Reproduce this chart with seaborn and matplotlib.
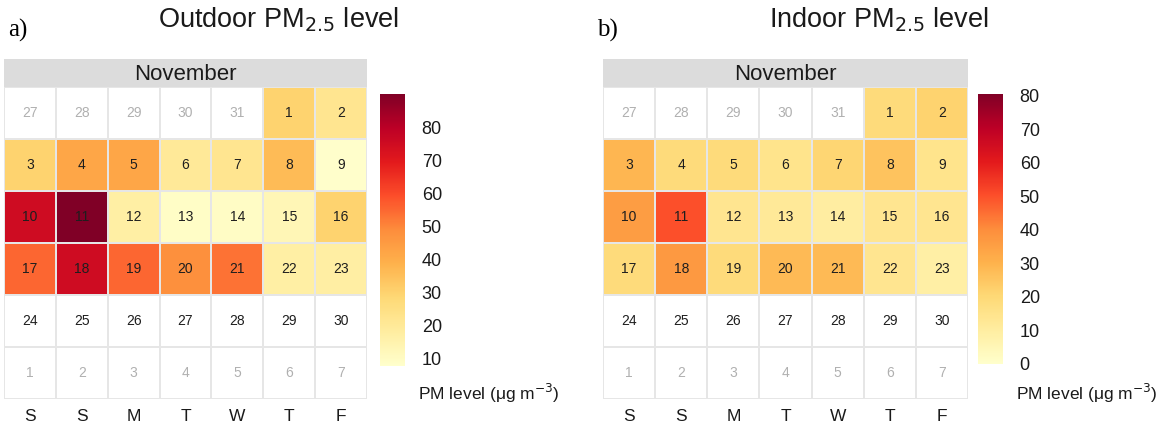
import numpy as np
import pandas as pd
import matplotlib
matplotlib.use("Agg")
import matplotlib.pyplot as plt
from matplotlib.colors import ListedColormap
import seaborn as sns

# ---- data -------------------------------------------------------------
weekdays = ["S", "S", "M", "T", "W", "T", "F"]
month_name = "November"
n_days = 30
first_col = 5          # column of the 1st of the month (Thursday)
prev_month_last = 31   # last day of the previous month

# daily mean PM2.5 (µg m^-3), 1st to 23rd November
outdoor = [30, 22, 30, 42, 42, 20, 22, 36, 8, 75, 90, 17, 9, 9.5, 13,
           30, 55, 75, 55, 48, 53, 17, 17.5]
indoor = [19, 22, 29, 19, 19, 15, 21, 26, 15, 36, 50, 14, 12, 10, 14,
          14, 19, 37, 19, 28, 28, 14, 9]

panel_titles = ["Outdoor PM$_{2.5}$ level", "Indoor PM$_{2.5}$ level"]
panel_tags = ["a)", "b)"]
scale_limits = [(7.6, 90), (0, 80.5)]
scale_ticks = [list(range(10, 90, 10)), list(range(0, 90, 10))]
legend_title = "PM level (\u03bcg m$^{-3}$)"

# ---- calendar layout ----------------------------------------------------
n_rows, n_cols = 6, 7
day_num = np.zeros((n_rows, n_cols), dtype=int)
in_month = np.zeros((n_rows, n_cols), dtype=bool)
for k in range(n_rows * n_cols):
    d = k - first_col + 1
    r, c = divmod(k, n_cols)
    if d < 1:
        day_num[r, c] = prev_month_last + d
    elif d > n_days:
        day_num[r, c] = d - n_days
    else:
        day_num[r, c] = d
        in_month[r, c] = True


def to_grid(values):
    grid = np.full((n_rows, n_cols), np.nan)
    for i, v in enumerate(values):
        r, c = divmod(i + first_col, n_cols)
        grid[r, c] = v
    return pd.DataFrame(grid)


sns.set_theme(style="white")
plt.rcParams["font.family"] = ["Liberation Sans", "DejaVu Sans"]

W, H = 1168, 426
fig = plt.figure(figsize=(W / 100, H / 100), dpi=100)


def fx(px):
    return px / W


def fy(px):
    return 1 - px / H


panels = [
    dict(x0=4, x1=367, cb=(380, 405, 94, 366), tag_x=8, title_x=278),
    dict(x0=603, x1=968, cb=(978, 1003, 94, 364), tag_x=597, title_x=879),
]
grid_top, grid_bot, hdr_top = 87, 399, 59
cmap = "YlOrRd"

for p, values, title, tag, (vmin, vmax), ticks in zip(
        panels, [outdoor, indoor], panel_titles, panel_tags,
        scale_limits, scale_ticks):
    ax = fig.add_axes([fx(p["x0"]), fy(grid_bot), fx(p["x1"] - p["x0"]),
                       (grid_bot - grid_top) / H])
    cx0, cx1, cy0, cy1 = p["cb"]
    cax = fig.add_axes([fx(cx0), fy(cy1), fx(cx1 - cx0), (cy1 - cy0) / H])

    # white base grid so every day cell gets its border
    sns.heatmap(pd.DataFrame(np.zeros((n_rows, n_cols))), ax=ax,
                cmap=ListedColormap(["white"]), cbar=False,
                linewidths=1.3, linecolor="#e6e6e6")
    data = to_grid(values)
    sns.heatmap(data, ax=ax, cmap=cmap, vmin=vmin, vmax=vmax,
                linewidths=1.3, linecolor="#e6e6e6",
                cbar_ax=cax, cbar_kws=dict(ticks=ticks))
    cbar = ax.collections[-1].colorbar

    for r in range(n_rows):
        for c in range(n_cols):
            ax.text(c + 0.5, r + 0.5, str(day_num[r, c]),
                    ha="center", va="center", fontsize=10,
                    color="#1e1e1e" if in_month[r, c] else "#b0b0b0")

    ax.set_xticks(np.arange(n_cols) + 0.5)
    ax.set_xticklabels(weekdays, fontsize=12.5, color="#1a1a1a")
    ax.set_yticks([])
    ax.tick_params(axis="x", length=0, pad=7)
    ax.set_xlabel("")
    ax.set_ylabel("")

    # month strip
    hdr = fig.add_axes([fx(p["x0"]), fy(grid_top), fx(p["x1"] - p["x0"]),
                        (grid_top - hdr_top) / H])
    hdr.set_facecolor("#dcdcdc")
    hdr.set_xticks([])
    hdr.set_yticks([])
    for s in hdr.spines.values():
        s.set_visible(False)
    hdr.text(0.5, 0.45, month_name, ha="center", va="center",
             fontsize=16, color="#1a1a1a", transform=hdr.transAxes)

    # colour bar styling
    cax.tick_params(length=0, labelsize=13, pad=12, colors="#1a1a1a")
    for s in cax.spines.values():
        s.set_visible(False)
    if cbar is not None:
        cbar.outline.set_visible(False)

    fig.text(fx(cx0 + 38), fy(393), legend_title, ha="left", va="center",
             fontsize=12.5, color="#1a1a1a")
    fig.text(fx(p["title_x"]), fy(20), title, ha="center", va="center",
             fontsize=19.5, color="#1a1a1a")
    fig.text(fx(p["tag_x"]), fy(30), tag, ha="left", va="center",
             fontsize=18, family=["Liberation Serif", "DejaVu Serif"],
             color="black")

fig.savefig("out.png", dpi=100)
